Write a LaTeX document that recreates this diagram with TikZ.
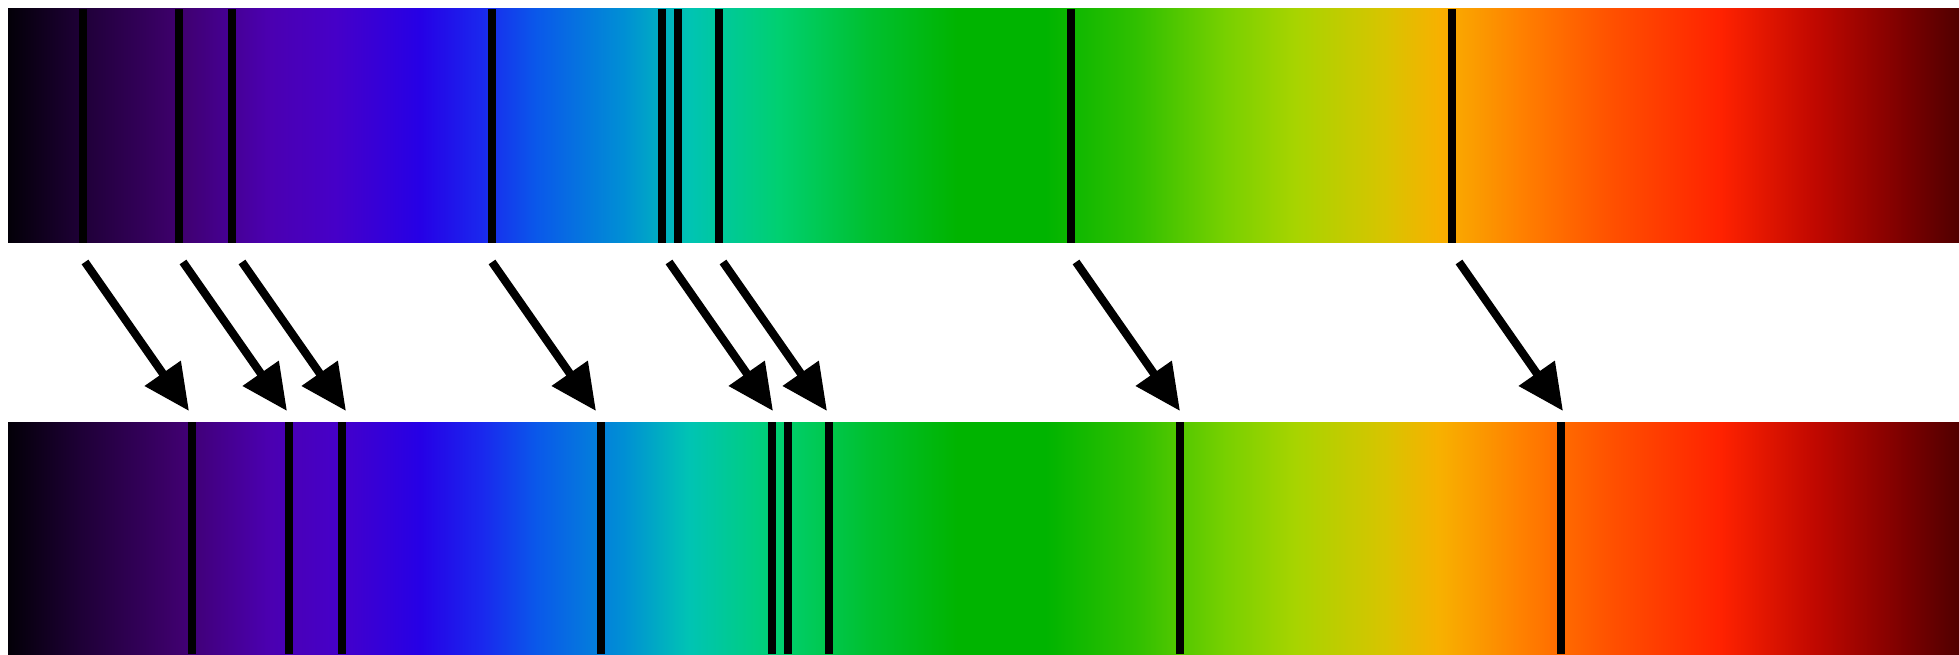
\documentclass[tikz,border=0pt]{standalone}
\usepackage{tikz}
\usetikzlibrary{arrows.meta}
\definecolor{specBlack}{HTML}{030008}
\definecolor{specPlum}{HTML}{1E0036}
\definecolor{specPurple}{HTML}{3F006E}
\definecolor{specIndigo}{HTML}{4B00B0}
\definecolor{specViolet}{HTML}{4600C8}
\definecolor{specBlueViolet}{HTML}{2600E6}
\definecolor{specRoyal}{HTML}{1A28EE}
\definecolor{specAzure}{HTML}{0A58EA}
\definecolor{specCerulean}{HTML}{0090D4}
\definecolor{specTeal}{HTML}{00C4B4}
\definecolor{specMint}{HTML}{00D070}
\definecolor{specJade}{HTML}{00C030}
\definecolor{specGreen}{HTML}{00B400}
\definecolor{specGrass}{HTML}{30C000}
\definecolor{specLime}{HTML}{78D000}
\definecolor{specChartreuse}{HTML}{A8D400}
\definecolor{specMustard}{HTML}{D8C400}
\definecolor{specAmber}{HTML}{F8B000}
\definecolor{specOrange}{HTML}{FF8000}
\definecolor{specVermilion}{HTML}{FF5000}
\definecolor{specRed}{HTML}{FF2200}
\definecolor{specCrimson}{HTML}{C00800}
\definecolor{specBrick}{HTML}{7A0000}
\definecolor{specMaroon}{HTML}{500000}
\pgfdeclarehorizontalshading{specSpectrum}{100bp}{%
  color(0bp)=(specBlack); color(25bp)=(specBlack);
  color(26.85bp)=(specPlum); color(29.41bp)=(specPurple);
  color(31.66bp)=(specIndigo); color(33.38bp)=(specViolet);
  color(35.56bp)=(specBlueViolet); color(37.15bp)=(specRoyal);
  color(38.53bp)=(specAzure); color(40.81bp)=(specCerulean);
  color(42.45bp)=(specTeal); color(44.76bp)=(specMint);
  color(47.04bp)=(specJade); color(49.32bp)=(specGreen);
  color(51.6bp)=(specGreen); color(53.91bp)=(specGrass);
  color(56.19bp)=(specLime); color(58.01bp)=(specChartreuse);
  color(60.32bp)=(specMustard); color(61.7bp)=(specAmber);
  color(63.78bp)=(specOrange); color(66.11bp)=(specVermilion);
  color(68.88bp)=(specRed); color(71.31bp)=(specCrimson);
  color(73.64bp)=(specBrick); color(75bp)=(specMaroon);
  color(100bp)=(specMaroon)}

\begin{document}
\begin{tikzpicture}[
    x=0.5pt, y=0.5pt,
    band/.style={shading=specSpectrum, draw=none},
    specline/.style={line width=3.7pt, draw=black},
    redshift/.style={-{Triangle[length=23pt, width=21pt]}, line width=4.1pt, draw=black}
]
    \useasboundingbox (0,0) rectangle (1959,654);
    \fill[white] (0,0) rectangle (1959,654);

    \shade[band] (8,411) rectangle (1959,645);
    \shade[band] (8,0) rectangle (1959,232);

    % rest frame
    \draw[specline] (83,411) -- (83,645);
    \draw[specline] (179,411) -- (179,645);
    \draw[specline] (232,411) -- (232,645);
    \draw[specline] (492,411) -- (492,645);
    \draw[specline] (662,411) -- (662,645);
    \draw[specline] (678,411) -- (678,645);
    \draw[specline] (719,411) -- (719,645);
    \draw[specline] (1071,411) -- (1071,645);
    \draw[specline] (1452,411) -- (1452,645);

    % shifted
    \draw[specline] (192,0) -- (192,232);
    \draw[specline] (289,0) -- (289,232);
    \draw[specline] (342,0) -- (342,232);
    \draw[specline] (601,0) -- (601,232);
    \draw[specline] (772,0) -- (772,232);
    \draw[specline] (788,0) -- (788,232);
    \draw[specline] (829,0) -- (829,232);
    \draw[specline] (1180,0) -- (1180,232);
    \draw[specline] (1561,0) -- (1561,232);

    \coordinate (restA) at (85,392);
    \coordinate (restB) at (183,392);
    \coordinate (restC) at (242,392);
    \coordinate (restD) at (492,392);
    \coordinate (restE) at (669,392);
    \coordinate (restF) at (723,392);
    \coordinate (restG) at (1076,392);
    \coordinate (restH) at (1459,392);
    \coordinate (shiftA) at (189,243);
    \coordinate (shiftB) at (287,243);
    \coordinate (shiftC) at (346,243);
    \coordinate (shiftD) at (596,243);
    \coordinate (shiftE) at (773,243);
    \coordinate (shiftF) at (827,243);
    \coordinate (shiftG) at (1180,243);
    \coordinate (shiftH) at (1563,243);

    \draw[redshift] (restA) -- (shiftA);
    \draw[redshift] (restB) -- (shiftB);
    \draw[redshift] (restC) -- (shiftC);
    \draw[redshift] (restD) -- (shiftD);
    \draw[redshift] (restE) -- (shiftE);
    \draw[redshift] (restF) -- (shiftF);
    \draw[redshift] (restG) -- (shiftG);
    \draw[redshift] (restH) -- (shiftH);
\end{tikzpicture}
\end{document}
